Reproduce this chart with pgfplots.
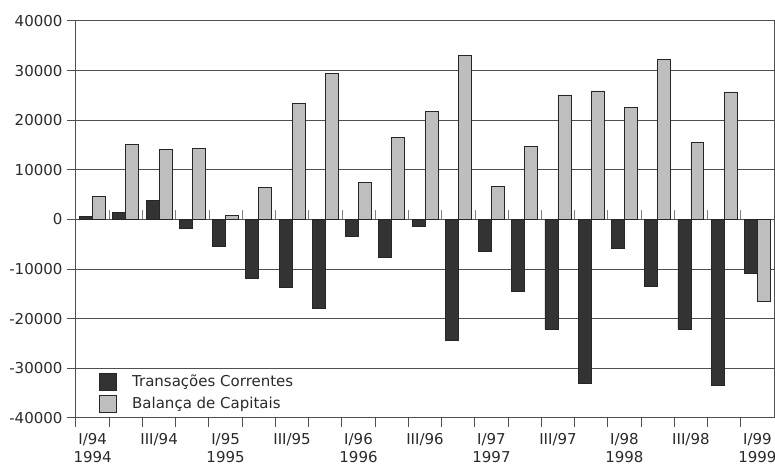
\documentclass[border=0pt]{standalone}
\usepackage{pgfplots}
\pgfplotsset{compat=1.18}
\usepackage{fontspec}
\setmainfont{DejaVu Sans}
\definecolor{darkbar}{HTML}{333333}
\definecolor{lightbar}{HTML}{BEBEBE}
\definecolor{gridc}{HTML}{505050}
\definecolor{txt}{HTML}{2A2A2A}
\begin{document}
\begin{tikzpicture}
\begin{axis}[
  scale only axis, width=698pt, height=397pt,
  xmin=-0.5, xmax=20.5, ymin=-40000, ymax=40000,
  ybar, bar width=0.39,
  scaled y ticks=false,
  ytick={-40000,-30000,-20000,-10000,0,10000,20000,30000,40000},
  yticklabels={-40000,-30000,-20000,-10000,0,10000,20000,30000,40000},
  font=\fontsize{15}{18}\selectfont, text=txt,
  ymajorgrids, major grid style={gridc, line width=1pt},
  axis line style={gridc, line width=1pt},
  tick style={gridc, line width=1pt},
  tick align=outside, major tick length=9pt, tick pos=left,
  xtick={-0.5,0.5,1.5,2.5,3.5,4.5,5.5,6.5,7.5,8.5,9.5,10.5,11.5,12.5,13.5,14.5,15.5,16.5,17.5,18.5,19.5},
  xticklabels={},
  extra x ticks={0,2,4,6,8,10,12,14,16,18,20},
  extra x tick labels={I/94\\1994, III/94, I/95\\1995, III/95, I/96\\1996, III/96, I/97\\1997, III/97, I/98\\1998, III/98, I/99\\1999},
  extra x tick style={major tick length=0pt, xmajorgrids=false},
  xticklabel style={align=center, anchor=north, yshift=-12pt},
  yticklabel style={xshift=-1pt},
  legend style={draw=none, fill=none, at={(0.028,0.008)}, anchor=south west,
    legend cell align=left, font=\fontsize{15}{17}\selectfont, row sep=4pt,
    text=txt},
  legend image code/.code={\path[draw=none, fill=none] (0pt,0pt) rectangle (31pt,0.1pt); \draw[#1, draw=black!85, line width=0.8pt] (0pt,-8.5pt) rectangle (17pt,8.5pt);},
]
\addplot[fill=darkbar, draw=black!85, line width=0.8pt, bar shift=-0.195] coordinates {
(0,600)(1,1500)(2,3900)(3,-1700)(4,-5500)(5,-11900)(6,-13700)(7,-18000)(8,-3400)(9,-7600)(10,-1300)(11,-24300)(12,-6400)(13,-14400)(14,-22100)(15,-33000)(16,-5900)(17,-13400)(18,-22100)(19,-33500)(20,-10900)};
\addlegendentry{Transações Correntes}
\addplot[fill=lightbar, draw=black!85, line width=0.8pt, bar shift=0.195] coordinates {
(0,4600)(1,15100)(2,14100)(3,14300)(4,800)(5,6500)(6,23300)(7,29500)(8,7500)(9,16600)(10,21800)(11,33000)(12,6600)(13,14700)(14,25100)(15,25900)(16,22500)(17,32200)(18,15600)(19,25700)(20,-16500)};
\addlegendentry{Balança de Capitais}
\pgfplotsinvokeforeach{0.5,1.5,2.5,3.5,4.5,5.5,6.5,7.5,8.5,9.5,10.5,11.5,12.5,13.5,14.5,15.5,16.5,17.5,18.5,19.5}{
  \draw[gray, line width=0.7pt] (axis cs:#1,0) -- ([yshift=9pt]axis cs:#1,0);
}
\end{axis}
\pgfresetboundingbox
\path ([shift={(-76pt,-51pt)}]current axis.south west) rectangle ([shift={(1pt,21pt)}]current axis.north east);
\end{tikzpicture}
\end{document}
